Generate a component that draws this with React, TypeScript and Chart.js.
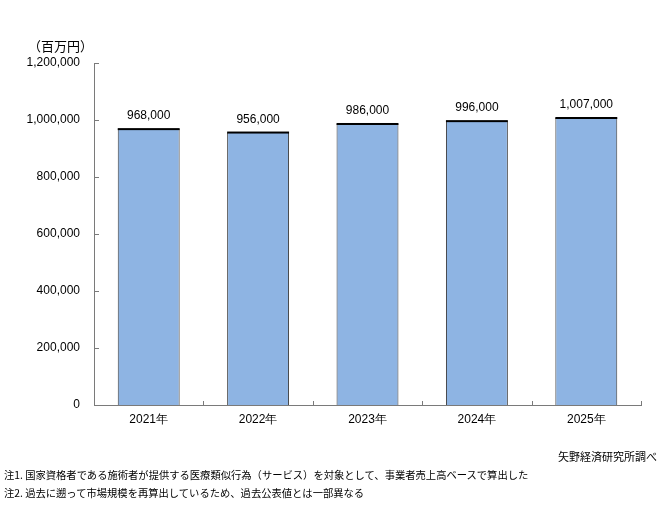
import React, { useEffect, useRef } from "react";
import { Chart, registerables } from "chart.js";

Chart.register(...registerables);

const categories = ["2021年", "2022年", "2023年", "2024年", "2025年"];
const values = [968000, 956000, 986000, 996000, 1007000];
const yTicks = [0, 200000, 400000, 600000, 800000, 1000000, 1200000];
const unitLabel = "（百万円）";
const sourceLabel = "矢野経済研究所調べ";
const notes = [
  "注1. 国家資格者である施術者が提供する医療類似行為（サービス）を対象として、事業者売上高ベースで算出した",
  "注2. 過去に遡って市場規模を再算出しているため、過去公表値とは一部異なる",
];

const NUM_FONT = "'Liberation Sans', Arial, sans-serif";
const JP_FONT = "'Noto Sans CJK JP', sans-serif";
const AXIS_COLOR = "#7a7a7a";

const fmt = (v: number) => v.toLocaleString("en-US");

const decoPlugin = {
  id: "deco",
  afterDatasetsDraw(chart: any) {
    const { ctx, chartArea, scales } = chart;
    const y = scales.y;
    ctx.save();
    ctx.strokeStyle = AXIS_COLOR;
    ctx.lineWidth = 1;
    ctx.beginPath();
    yTicks.forEach((t) => {
      const py = Math.round(y.getPixelForValue(t)) + 0.5;
      ctx.moveTo(chartArea.left, py);
      ctx.lineTo(chartArea.left + 5, py);
    });
    const n = categories.length;
    const w = (chartArea.right - chartArea.left) / n;
    for (let i = 1; i <= n; i++) {
      const px = Math.round(chartArea.left + w * i) + 0.5;
      ctx.moveTo(px, chartArea.bottom);
      ctx.lineTo(px, chartArea.bottom - 4);
    }
    ctx.stroke();
    const meta = chart.getDatasetMeta(0);
    ctx.font = `12px ${NUM_FONT}`;
    ctx.textAlign = "center";
    ctx.textBaseline = "middle";
    meta.data.forEach((bar: any, i: number) => {
      ctx.fillStyle = "#000";
      ctx.fillRect(bar.x - bar.width / 2, bar.y - 1, bar.width, 2);
      ctx.fillText(fmt(values[i]), bar.x, bar.y - 13);
    });
    ctx.restore();
  },
};

function BarChart() {
  const ref = useRef<HTMLCanvasElement>(null);
  useEffect(() => {
    if (!ref.current) return;
    const chart = new Chart(ref.current, {
      type: "bar",
      data: {
        labels: categories,
        datasets: [
          {
            data: values,
            backgroundColor: "#8EB4E3",
            borderColor: "#3a3a3a",
            borderWidth: { top: 0, left: 1, right: 1, bottom: 0 },
            borderSkipped: false,
            categoryPercentage: 1,
            barPercentage: 0.566,
          },
        ],
      },
      options: {
        responsive: false,
        animation: false,
        events: [],
        layout: { padding: { top: 63, right: 21, left: 0, bottom: 0 } },
        plugins: { legend: { display: false }, tooltip: { enabled: false } },
        scales: {
          x: {
            grid: { display: false, drawTicks: false },
            border: { display: true, color: AXIS_COLOR, width: 1 },
            ticks: { color: "#000", font: { size: 12, family: NUM_FONT }, padding: 7 },
            afterFit: (s: any) => {
              s.height = 100;
            },
          },
          y: {
            min: 0,
            max: 1200000,
            afterBuildTicks: (s: any) => {
              s.ticks = yTicks.map((v) => ({ value: v }));
            },
            grid: { display: false, drawTicks: false },
            border: { display: true, color: AXIS_COLOR, width: 1 },
            ticks: {
              color: "#000",
              font: { size: 12, family: NUM_FONT },
              padding: 14,
              callback: (v: any) => fmt(Number(v)),
            },
            afterFit: (s: any) => {
              s.width = 94;
            },
          },
        },
      },
      plugins: [decoPlugin],
    });
    return () => chart.destroy();
  }, []);
  return <canvas ref={ref} width={662} height={505} style={{ display: "block" }} />;
}

export default function App() {
  const textBase: React.CSSProperties = {
    position: "absolute",
    fontFamily: JP_FONT,
    color: "#000",
    whiteSpace: "nowrap",
    lineHeight: 1,
  };
  return (
    <div style={{ position: "absolute", left: 0, top: 0, width: 662, height: 505, background: "#fff", overflow: "hidden" }}>
      <BarChart />
      <div style={{ ...textBase, left: 28, top: 39, fontSize: 13 }}>{unitLabel}</div>
      <div style={{ ...textBase, right: 5, top: 451, fontSize: 11 }}>{sourceLabel}</div>
      <div style={{ ...textBase, left: 4, top: 470, fontSize: 10.3 }}>{notes[0]}</div>
      <div style={{ ...textBase, left: 4, top: 488, fontSize: 10.3 }}>{notes[1]}</div>
    </div>
  );
}
